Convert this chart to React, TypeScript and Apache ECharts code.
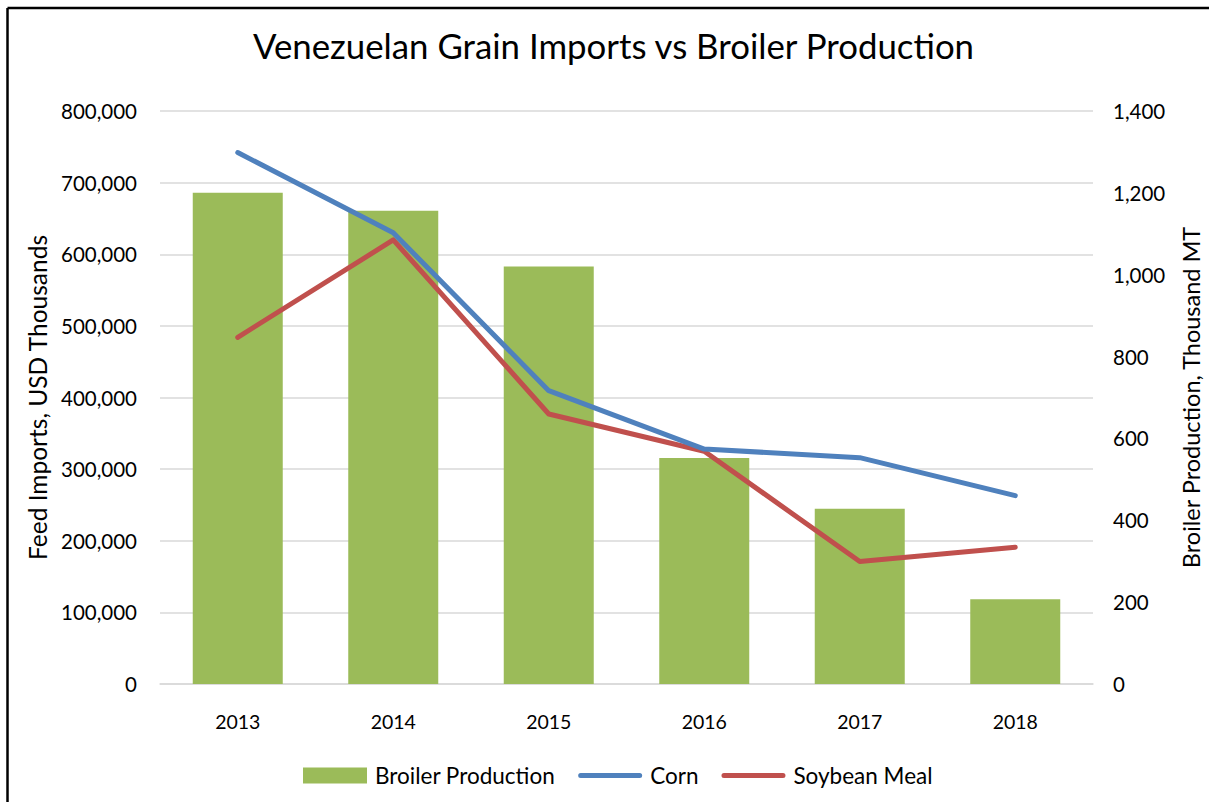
import React, { useEffect, useRef } from "react";
import * as echarts from "echarts";

const years = ["2013", "2014", "2015", "2016", "2017", "2018"];
const broilerProduction = [1200, 1156, 1020, 552, 428, 207];
const corn = [742000, 630000, 409500, 328000, 316000, 263000];
const soybeanMeal = [484000, 620000, 377000, 325000, 171000, 191000];

const FONT = "Lato";
const LINE_ICON =
  "path://M0,0L0.01,0L0,0.01Z M2.5,5.5 L61.5,5.5 A2.5,2.5 0 0 1 61.5,10.5 L2.5,10.5 A2.5,2.5 0 0 1 2.5,5.5 Z M63.99,16L64,16L64,15.99Z";

export default function App() {
  const ref = useRef<HTMLDivElement>(null);
  useEffect(() => {
    document.body.style.margin = "0";
    document.body.style.overflow = "hidden";
    const chart = echarts.init(ref.current!, null, { renderer: "svg" });
    chart.setOption({
      animation: false,
      backgroundColor: "#ffffff",
      textStyle: { fontFamily: FONT, color: "#000" },
      title: {
        text: "Venezuelan Grain Imports vs Broiler Production",
        left: 608.5,
        textAlign: "center",
        top: 23,
        textStyle: { fontFamily: FONT, fontSize: 34.8, fontWeight: "normal", color: "#000" },
      },
      graphic: [
        {
          type: "line",
          shape: { x1: 7.5, y1: 8, x2: 1209, y2: 8 },
          style: { stroke: "#000", lineWidth: 2.5 },
          silent: true,
        },
        {
          type: "line",
          shape: { x1: 7.5, y1: 8, x2: 7.5, y2: 802 },
          style: { stroke: "#000", lineWidth: 2.5 },
          silent: true,
        },
      ],
      legend: {
        left: 298,
        top: 759,
        itemWidth: 64,
        itemHeight: 16,
        itemGap: 23,
        textStyle: { fontFamily: FONT, fontSize: 22.5, color: "#000", padding: [0, 0, 0, 3] },
        data: [
          { name: "Broiler Production", icon: "rect" },
          { name: "Corn", icon: LINE_ICON },
          { name: "Soybean Meal", icon: LINE_ICON },
        ],
      },
      grid: {
        left: 160,
        right: 116,
        top: 111,
        bottom: 118,
        containLabel: false,
        outerBoundsMode: "none",
      },
      xAxis: {
        type: "category",
        data: years,
        axisTick: { show: false },
        axisLine: { lineStyle: { color: "#d9d9d9", width: 1.5 } },
        axisLabel: { margin: 27, fontSize: 19.5, color: "#000", fontFamily: FONT },
      },
      yAxis: [
        {
          type: "value",
          min: 0,
          max: 800000,
          interval: 100000,
          name: "Feed Imports, USD Thousands",
          nameLocation: "middle",
          nameGap: 106,
          nameTextStyle: { fontSize: 24.5, color: "#000", fontFamily: FONT },
          axisLine: { show: false },
          axisTick: { show: false },
          axisLabel: {
            margin: 23,
            fontSize: 20.5,
            color: "#000",
            fontFamily: FONT,
            padding: [3, 0, 0, 0],
            formatter: (v: number) => v.toLocaleString("en-US"),
          },
          splitLine: { lineStyle: { color: "#d9d9d9", width: 1.5 } },
        },
        {
          type: "value",
          min: 0,
          max: 1400,
          interval: 200,
          name: "Broiler Production, Thousand MT",
          nameLocation: "middle",
          nameGap: 86,
          nameTextStyle: { fontSize: 23.5, color: "#000", fontFamily: FONT },
          axisLine: { show: false },
          axisTick: { show: false },
          axisLabel: {
            margin: 20,
            fontSize: 20.5,
            color: "#000",
            fontFamily: FONT,
            padding: [3, 0, 0, 0],
            formatter: (v: number) => v.toLocaleString("en-US"),
          },
          splitLine: { show: false },
        },
      ],
      series: [
        {
          name: "Broiler Production",
          type: "bar",
          yAxisIndex: 1,
          data: broilerProduction,
          barWidth: 90,
          itemStyle: { color: "#9bbb59" },
          z: 1,
        },
        {
          name: "Corn",
          type: "line",
          yAxisIndex: 0,
          data: corn,
          symbol: "none",
          lineStyle: { color: "#4f81bd", width: 5, cap: "round", join: "round" },
          itemStyle: { color: "#4f81bd" },
          z: 3,
        },
        {
          name: "Soybean Meal",
          type: "line",
          yAxisIndex: 0,
          data: soybeanMeal,
          symbol: "none",
          lineStyle: { color: "#c0504d", width: 5, cap: "round", join: "round" },
          itemStyle: { color: "#c0504d" },
          z: 2,
        },
      ],
    });
    return () => chart.dispose();
  }, []);
  return <div ref={ref} style={{ width: 1209, height: 802 }} />;
}
